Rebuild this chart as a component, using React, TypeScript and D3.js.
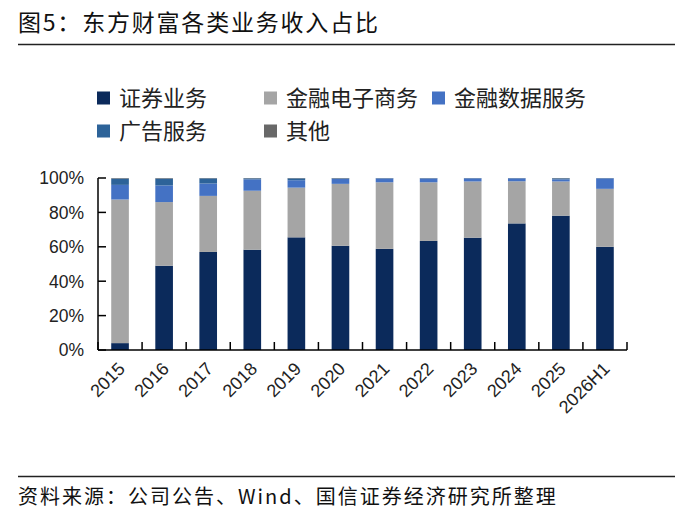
import * as d3 from 'd3';

const years = ['2015', '2016', '2017', '2018', '2019', '2020', '2021', '2022', '2023', '2024', '2025', '2026H1'];
const seriesNames = ['证券业务', '金融电子商务', '金融数据服务', '广告服务', '其他'];
const seriesColors = ['#0b2a5b', '#a5a5a5', '#4472c4', '#2d6399', '#686868'];

// revenue share, %
const securities = [4, 49, 57, 58.3, 65.5, 60.6, 58.8, 63.4, 65.3, 73.6, 78.1, 60];
const ecommerce = [83.5, 37, 32.6, 34.3, 28.9, 36, 38.7, 34.1, 32.7, 24.5, 19.9, 33.7];
const dataService = [8.5, 9.7, 7.2, 6.6, 4.3, 2.9, 2.2, 2.2, 1.8, 1.7, 1.2, 6.1];
const advertising = [3.7, 4, 3, 0.6, 1.1, 0.3, 0.2, 0.2, 0.1, 0.1, 0.6, 0.1];
const others = [0.3, 0.3, 0.2, 0.2, 0.2, 0.2, 0.1, 0.1, 0.1, 0.1, 0.2, 0.1];

const yTicks = [0, 20, 40, 60, 80, 100];

const W = 680;
const H = 525;
const CJK = '"Noto Sans CJK SC", "Noto Sans", sans-serif';
const NUM = '"Liberation Sans", Arial, sans-serif';

export default function App() {
  const cols = [securities, ecommerce, dataService, advertising, others];
  const rows = years.map((y, i) => {
    const r: Record<string, number | string> = { year: y };
    seriesNames.forEach((s, k) => (r[s] = cols[k][i]));
    return r;
  });
  const stacked = d3.stack<Record<string, number | string>>().keys(seriesNames)(rows as any);

  const plot = { left: 98, right: 627, top: 178, bottom: 350 };
  const x = d3
    .scaleBand<string>()
    .domain(years)
    .range([plot.left, plot.right])
    .paddingInner(0.6)
    .paddingOuter(0.3);
  const y = d3.scaleLinear().domain([0, 100]).range([plot.bottom, plot.top]);
  const step = x.step();
  const boundaries = d3.range(years.length + 1).map((k) => plot.left + k * step);

  const legendItems = [
    { name: seriesNames[0], color: seriesColors[0], lx: 97, ly: 98 },
    { name: seriesNames[1], color: seriesColors[1], lx: 264, ly: 98 },
    { name: seriesNames[2], color: seriesColors[2], lx: 432, ly: 98 },
    { name: seriesNames[3], color: seriesColors[3], lx: 97, ly: 131 },
    { name: seriesNames[4], color: seriesColors[4], lx: 264, ly: 131 },
  ];

  return (
    <svg
      width={W}
      height={H}
      style={{ position: 'absolute', left: 0, top: 0, background: '#fff' }}
    >
      {/* title */}
      <text x={18} y={31} fontSize={23} fontFamily={CJK} fill="#111" letterSpacing={1.8}>
        图5：东方财富各类业务收入占比
      </text>
      <line x1={18} x2={675} y1={44.5} y2={44.5} stroke="#222" strokeWidth={1.3} />

      {/* legend */}
      {legendItems.map((d) => (
        <g key={d.name}>
          <rect x={d.lx} y={d.ly - 6.5} width={13} height={13} fill={d.color} />
          <text
            x={d.lx + 22}
            y={d.ly}
            dy="0.36em"
            fontSize={22}
            fontFamily={CJK}
            fill="#222"
          >
            {d.name}
          </text>
        </g>
      ))}

      {/* bars */}
      {stacked.map((layer, k) => (
        <g key={layer.key} fill={seriesColors[k]}>
          {layer.map((seg, i) => (
            <rect
              key={years[i]}
              x={x(years[i])}
              width={x.bandwidth()}
              y={y(seg[1])}
              height={Math.max(0, y(seg[0]) - y(seg[1]))}
            />
          ))}
        </g>
      ))}

      {/* y axis */}
      <line x1={plot.left} x2={plot.left} y1={plot.top} y2={plot.bottom} stroke="#000" strokeWidth={1.5} />
      {yTicks.map((v) => (
        <g key={v}>
          <line x1={plot.left} x2={plot.left + 8} y1={y(v)} y2={y(v)} stroke="#000" strokeWidth={1.5} />
          <text
            x={84}
            y={y(v)}
            dy="0.36em"
            textAnchor="end"
            fontSize={17.5}
            fontFamily={NUM}
            fill="#222"
          >
            {`${v}%`}
          </text>
        </g>
      ))}

      {/* x axis */}
      <line x1={plot.left} x2={plot.right} y1={plot.bottom} y2={plot.bottom} stroke="#000" strokeWidth={1.5} />
      {boundaries.map((bx, k) => (
        <line key={k} x1={bx} x2={bx} y1={plot.bottom} y2={plot.bottom - 8} stroke="#000" strokeWidth={1.5} />
      ))}
      {years.map((yr) => {
        const cx = (x(yr) ?? 0) + x.bandwidth() / 2 - 3;
        const cy = plot.bottom + 11;
        return (
          <text
            key={yr}
            transform={`translate(${cx},${cy}) rotate(-45)`}
            textAnchor="end"
            dy="0.7em"
            fontSize={18}
            fontFamily={NUM}
            fill="#222"
          >
            {yr}
          </text>
        );
      })}

      {/* source */}
      <line x1={18} x2={675} y1={476.5} y2={476.5} stroke="#222" strokeWidth={1.3} />
      <text x={18} y={504} fontSize={20} fontFamily={CJK} fill="#111" letterSpacing={2}>
        资料来源：公司公告、Wind、国信证券经济研究所整理
      </text>
    </svg>
  );
}
